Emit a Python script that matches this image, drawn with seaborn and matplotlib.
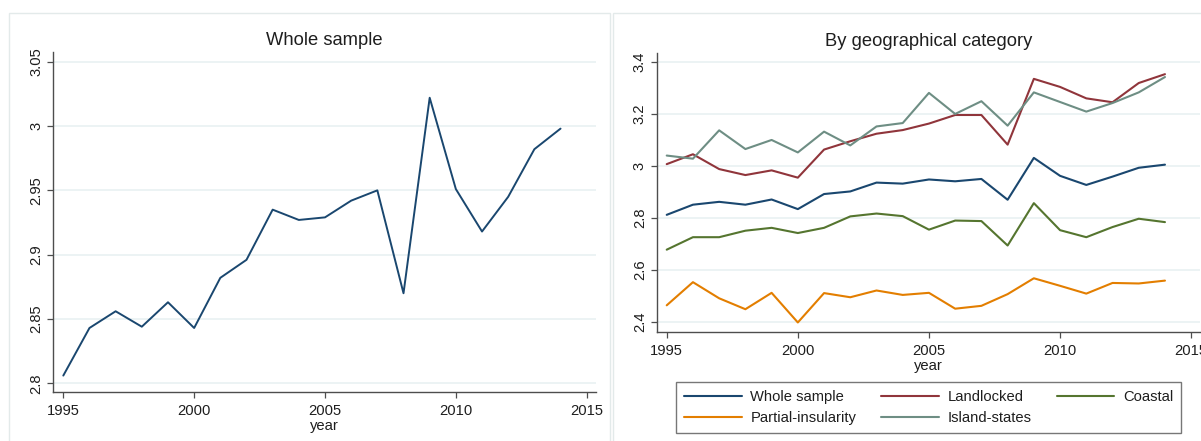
import matplotlib
matplotlib.use("Agg")
import matplotlib.pyplot as plt
from matplotlib.patches import Rectangle
from matplotlib.ticker import FixedLocator, FuncFormatter
import pandas as pd
import seaborn as sns

# ---- data -------------------------------------------------------------
years = list(range(1995, 2015))

# left panel: whole sample
whole_sample = [2.806, 2.843, 2.856, 2.844, 2.863, 2.843, 2.882, 2.896, 2.935, 2.927,
                2.929, 2.942, 2.950, 2.870, 3.022, 2.951, 2.918, 2.945, 2.982, 2.998]

# right panel: by geographical category
whole_sample_geo = [2.811, 2.850, 2.861, 2.850, 2.870, 2.833, 2.891, 2.901, 2.935, 2.931,
                    2.947, 2.940, 2.949, 2.869, 3.030, 2.961, 2.926, 2.958, 2.992, 3.004]
landlocked = [3.006, 3.044, 2.987, 2.964, 2.982, 2.954, 3.062, 3.094, 3.123, 3.137,
              3.162, 3.195, 3.195, 3.081, 3.334, 3.303, 3.259, 3.244, 3.318, 3.352]
coastal = [2.677, 2.725, 2.725, 2.750, 2.761, 2.741, 2.761, 2.805, 2.816, 2.806,
           2.754, 2.789, 2.787, 2.693, 2.856, 2.752, 2.725, 2.764, 2.796, 2.783]
partial_insularity = [2.463, 2.552, 2.490, 2.448, 2.511, 2.397, 2.510, 2.494, 2.520, 2.503,
                      2.511, 2.450, 2.461, 2.506, 2.567, 2.538, 2.508, 2.549, 2.547, 2.558]
island_states = [3.039, 3.027, 3.136, 3.064, 3.099, 3.051, 3.131, 3.078, 3.151, 3.164,
                 3.280, 3.199, 3.248, 3.154, 3.282, 3.245, 3.208, 3.241, 3.282, 3.341]

categories = ["Whole sample", "Landlocked", "Coastal", "Partial-insularity", "Island-states"]
colors = ["#1a476f", "#90353b", "#55752f", "#e37e00", "#6e8e84"]

left_yticks = [2.8, 2.85, 2.9, 2.95, 3.0, 3.05]
right_yticks = [2.4, 2.6, 2.8, 3.0, 3.2, 3.4]
xticks = [1995, 2000, 2005, 2010, 2015]

# ---- style ------------------------------------------------------------
sns.set_style("white")
plt.rcParams["font.family"] = ["Liberation Sans", "DejaVu Sans"]

W, H = 1201, 441
fig = plt.figure(figsize=(W / 100, H / 100), dpi=100)
fig.patch.set_facecolor("white")


def fx(px):
    return px / W


def fy(py):
    return (H - py) / H


# faint panel frames
for x0, x1 in [(9, 610), (613, 1215)]:
    fig.patches.append(Rectangle((fx(x0), fy(460)), fx(x1 - x0), (460 - 13) / H,
                                 transform=fig.transFigure, fill=False,
                                 edgecolor="#e3eaea", linewidth=1.0, zorder=0))

ax1 = fig.add_axes([fx(53.3), fy(392.3), fx(595.5 - 53.3), (392.3 - 51.7) / H])
ax2 = fig.add_axes([fx(656.7), fy(332.3), fx(1200 - 656.7), (332.3 - 53.3) / H])

left_df = pd.DataFrame({"year": years, "value": whole_sample})
sns.lineplot(data=left_df, x="year", y="value", ax=ax1, color=colors[0],
             linewidth=1.4, legend=False)

right_df = pd.DataFrame({
    "year": years * 5,
    "value": whole_sample_geo + landlocked + coastal + partial_insularity + island_states,
    "group": sum([[c] * len(years) for c in categories], []),
})
sns.lineplot(data=right_df, x="year", y="value", hue="group", hue_order=categories,
             palette=dict(zip(categories, colors)), ax=ax2, linewidth=1.5)

fmt = FuncFormatter(lambda v, p: f"{v:g}")


def style_axis(ax, yticks, ylim, title):
    ax.set_xlim(1994.618, 2015.336)
    ax.set_ylim(*ylim)
    ax.xaxis.set_major_locator(FixedLocator(xticks))
    ax.yaxis.set_major_locator(FixedLocator(yticks))
    ax.yaxis.set_major_formatter(fmt)
    ax.grid(False)
    for y in yticks:
        ax.axhline(y, color="#eaf2f3", linewidth=1.3, zorder=0)
    for s in ["top", "right"]:
        ax.spines[s].set_visible(False)
    for s in ["left", "bottom"]:
        ax.spines[s].set_color("#4d4d4d")
        ax.spines[s].set_linewidth(1.0)
    ax.tick_params(axis="both", direction="out", length=4, width=0.9, color="#4d4d4d",
                   labelsize=10.6, labelcolor="#1e1e1e", left=True, bottom=True)
    ax.tick_params(axis="x", pad=4.5)
    ax.tick_params(axis="y", pad=3.0)
    for lab in ax.get_yticklabels():
        lab.set_rotation(90)
        lab.set_va("center")
    ax.set_xlabel("year", fontsize=10.6, color="#1e1e1e", labelpad=1)
    ax.set_ylabel("")
    ax.set_title(title, fontsize=13.2, color="#1e1e1e", pad=5)
    ax.set_facecolor("none")


style_axis(ax1, left_yticks, (2.793, 3.0578), "Whole sample")
style_axis(ax2, right_yticks, (2.3592, 3.4323), "By geographical category")

ax2.get_legend().remove()
handles, labels = ax2.get_legend_handles_labels()
hmap = dict(zip(labels, handles))
order = ["Whole sample", "Partial-insularity", "Landlocked", "Island-states", "Coastal"]
leg = fig.legend([hmap[k] for k in order], order, loc="upper left",
                 bbox_to_anchor=(fx(676), fy(381.7)), ncol=3, fontsize=10.6,
                 frameon=True, fancybox=False, handlelength=3.9, handletextpad=0.6,
                 columnspacing=1.7, labelspacing=0.5, borderpad=0.55,
                 borderaxespad=0)
leg.get_frame().set_edgecolor("#555555")
leg.get_frame().set_linewidth(1.0)
for t in leg.get_texts():
    t.set_color("#1e1e1e")

fig.savefig("out.png", dpi=100, facecolor="white")
